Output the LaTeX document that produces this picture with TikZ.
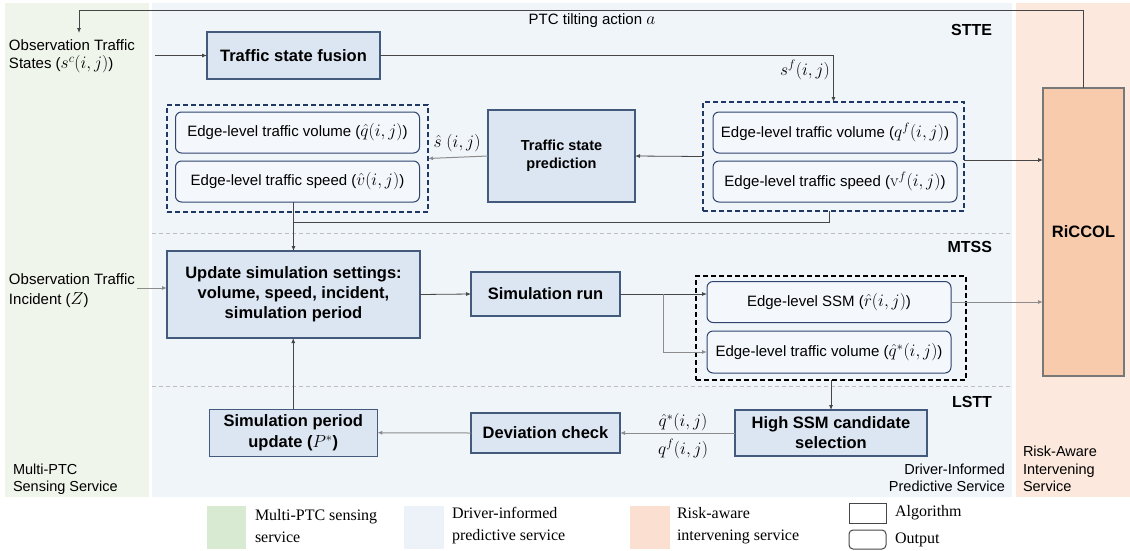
\RequirePackage{fix-cm}
\documentclass[tikz,border=0pt]{standalone}
\usepackage[no-math]{fontspec}
\setmainfont{Liberation Sans}
\newfontfamily\legfont{Liberation Serif}
\usetikzlibrary{arrows.meta,calc}

% math set a little larger so that it sits well beside the sans text
\newcommand{\mth}[1]{{\fontsize{17.5}{18}\selectfont$#1$}}

\definecolor{greenpanel}{RGB}{240,245,235}
\definecolor{bluepanel}{RGB}{240,245,250}
\definecolor{orangepanel}{RGB}{252,232,220}
\definecolor{algofill}{RGB}{220,230,242}
\definecolor{algoline}{RGB}{68,90,125}
\definecolor{outfill}{RGB}{244,247,251}
\definecolor{outline}{RGB}{47,68,110}
\definecolor{grpline}{RGB}{31,56,100}
\definecolor{riccolfill}{RGB}{248,203,173}
\definecolor{riccolline}{RGB}{120,120,120}
\definecolor{leggreen}{RGB}{217,234,211}
\definecolor{legblue}{RGB}{237,242,249}
\definecolor{legorange}{RGB}{251,224,210}
\definecolor{darkconn}{RGB}{70,70,70}
\definecolor{lightconn}{RGB}{140,140,140}
\definecolor{sepline}{RGB}{190,190,190}

\begin{document}
\begin{tikzpicture}[x=1pt,y=-1pt,
  every node/.style={inner sep=0pt, outer sep=0pt},
  algo/.style={draw=algoline, fill=algofill, line width=1.1pt, align=center,
    font=\fontsize{16.5}{20}\selectfont\bfseries},
  outp/.style={draw=outline, fill=outfill, rounded corners=6pt, line width=1pt,
    minimum width=244, minimum height=41, font=\fontsize{15}{18}\selectfont},
  grp/.style={draw=grpline, dash pattern=on 5pt off 3pt, line width=1.2pt},
  conn/.style={draw=darkconn, line width=0.8pt},
  lconn/.style={draw=lightconn, line width=1pt},
  arr/.style={conn, -{Latex[length=5pt,width=4pt]}},
  larr/.style={lconn, -{Latex[length=5pt,width=4pt]}},
  sep/.style={draw=sepline, dash pattern=on 4pt off 3pt, line width=0.8pt},
  lbl/.style={font=\fontsize{15}{18}\selectfont},
  sec/.style={font=\fontsize{16}{19}\selectfont\bfseries, anchor=east},
  side/.style={font=\fontsize{14.5}{17.5}\selectfont},
  leg/.style={font=\legfont\fontsize{16}{22}\selectfont, anchor=west, align=left}
]
\useasboundingbox (0,0) rectangle (1130,550);

% service panels
\fill[greenpanel] (5,3) rectangle (149,497);
\fill[bluepanel] (152,3) rectangle (1012,497);
\fill[orangepanel] (1016,3) rectangle (1130,497);

% stage separators
\draw[sep] (152,233) -- (1012,233);
\draw[sep] (152,386) -- (1012,386);

% section titles
\node[sec] (stte) at (992,30) {STTE};
\node[sec] (mtss) at (992,247) {MTSS};
\node[sec] (lstt) at (992,402) {LSTT};

% service names
\node[side, anchor=west, align=left] (msens) at (13,479) {Multi-PTC\\Sensing Service};
\node[side, anchor=east, align=right] (dpred) at (1005,478) {Driver-Informed\\Predictive Service};
\node[side, anchor=west, align=left] (rint) at (1023,469) {Risk-Aware\\Intervening\\Service};

% inputs
\node[lbl, anchor=west, align=left, font=\fontsize{15}{18.5}\selectfont] (obsS) at (9,56)
  {Observation Traffic\\States (\mth{s^c(i,j)})};
\node[lbl, anchor=west, align=left, font=\fontsize{15}{20.5}\selectfont] (obsZ) at (9,290.5)
  {Observation Traffic\\Incident (\mth{Z})};

% STTE
\node[algo, minimum width=173, minimum height=47] (fusion) at (293.5,55.5) {Traffic state fusion};
\node[algo, minimum width=147, minimum height=92, font=\fontsize{14.5}{18}\selectfont\bfseries]
  (pred) at (561.5,156) {Traffic state\\prediction};
\node[grp, minimum width=261, minimum height=107] (Lbox) at (297.5,158.5) {};
\node[outp] (Lq) at (297.5,132.5) {Edge-level traffic volume (\mth{\hat{q}(i,j)})};
\node[outp] (Lv) at (297.5,181.5) {Edge-level traffic speed (\mth{\hat{v}(i,j)})};
\node[grp, minimum width=261, minimum height=109] (Rbox) at (833.5,156.5) {};
\node[outp] (Rq) at (835,132.5) {Edge-level traffic volume (\mth{q^f(i,j)})};
\node[outp] (Rv) at (835,181.5) {Edge-level traffic speed (\mth{\mathrm{v}^f(i,j)})};

% RiCCOL
\node[draw=riccolline, fill=riccolfill, line width=1.2pt, minimum width=81, minimum height=288,
  font=\fontsize{16.5}{20}\selectfont\bfseries] (ric) at (1083.5,232) {RiCCOL};

% MTSS
\node[algo, minimum width=253, minimum height=87] (upd) at (293.5,294.5)
  {Update simulation settings:\\volume, speed, incident,\\simulation period};
\node[algo, minimum width=149, minimum height=44] (simrun) at (545.5,294) {Simulation run};
\node[grp, draw=black, minimum width=270, minimum height=104] (Mbox) at (831,328) {};
\node[outp] (ssm) at (829,302) {Edge-level SSM (\mth{\hat{r}(i,j)})};
\node[outp, minimum height=42] (qstar) at (829,352) {Edge-level traffic volume (\mth{\hat{q}^{*}(i,j)})};

% LSTT
\node[algo, minimum width=192, minimum height=46] (high) at (831,433) {High SSM candidate\\selection};
\node[algo, minimum width=149, minimum height=40] (dev) at (545.5,433) {Deviation check};
\node[algo, minimum width=168, minimum height=47, font=\fontsize{16.5}{21}\selectfont\bfseries]
  (per) at (293.25,432.75) {Simulation period\\update (\mth{P^{*}})};

% connector labels
\node[lbl] (ptc) at (592,21) {PTC tilting action \mth{a}};
\node[lbl] (lsf) at (805,70) {\mth{s^f(i,j)}};
\node[lbl] (lsh) at (457,143) {\mth{\hat{s}\ (i,j)}};
\node[lbl] (lqs) at (683,422) {\mth{\hat{q}^{*}(i,j)}};
\node[lbl] (lqf) at (683,449) {\mth{q^f(i,j)}};

% free ends and bends
\coordinate (fbT) at (79,10);
\coordinate (fbE) at (79,33);
\coordinate (sIn) at (155,55.5);
\coordinate (zIn) at (137,288);
\coordinate (jy) at (0,222);
\coordinate (rx) at (829,0);
\coordinate (ry) at (0,160);
\coordinate (br) at (663,294);

% connectors
\draw[arr] (ric.north) |- (fbT) -- (fbE);
\draw[arr] (sIn) -- (fusion.west);
\draw[arr] (fusion.east) -| (Rbox.north);
\draw[arr] (Rbox.west) -- (pred.east);
\draw[larr] (pred.west) -- (Lbox.east);
\draw[arr] (Rbox.east |- ry) -- (ric.west |- ry);
\draw[conn] (rx |- Rbox.south) |- (upd.north |- jy);
\draw[arr] (Lv.south -| upd.north) -- (upd.north);
\draw[larr] (zIn) -- (upd.west |- zIn);
\draw[arr] (upd.east) -- (simrun.west);
\draw[arr] (simrun.east) -- (simrun.east -| ssm.west);
\draw[larr] (br) |- (qstar.west);
\draw[larr] (ssm.east) -- (ssm.east -| ric.west);
\draw[arr] (Mbox.south) -- (high.north);
\draw[larr] (high.west) -- (dev.east);
\draw[larr] (dev.west) -- (per.east);
\draw[arr] (per.north) -- (per.north |- upd.south);

% legend
\fill[leggreen] (207,506) rectangle (246,549);
\node[leg] (lg1) at (255,526) {Multi-PTC sensing\\service};
\fill[legblue] (404,506) rectangle (443.5,549);
\node[leg] (lg2) at (452,526) {Driver-informed\\predictive service};
\fill[legorange] (630,506) rectangle (670,549);
\node[leg] (lg3) at (677,526) {Risk-aware\\intervening service};
\draw[draw=darkconn, line width=1pt] (849,503) rectangle (886,523);
\node[leg] (lg4) at (895,513) {Algorithm};
\draw[draw=darkconn, line width=1pt, rounded corners=4pt] (849,530) rectangle (886,549);
\node[leg] (lg5) at (895,540) {Output};
\end{tikzpicture}
\end{document}
